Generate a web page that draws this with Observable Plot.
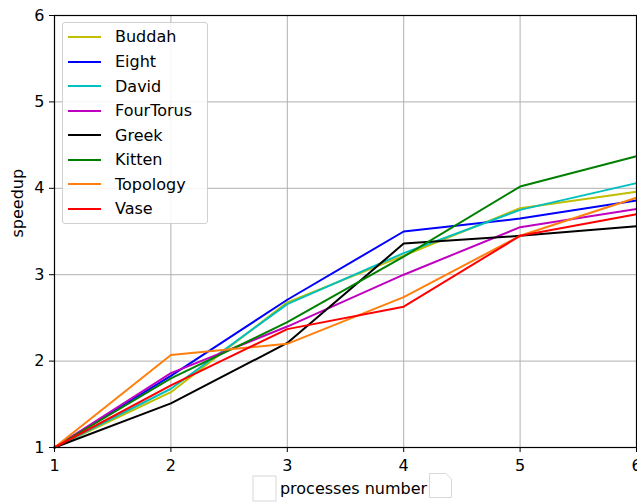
<!DOCTYPE html>
<html>
<head>
<meta charset="utf-8">
<script src="https://cdn.jsdelivr.net/npm/d3@7"></script>
<script src="https://cdn.jsdelivr.net/npm/@observablehq/plot@0.6"></script>
<style>
  body { margin: 0; background: white; }
  #wrap { position: relative; width: 637px; height: 502px; font-family: "DejaVu Sans", sans-serif; }
  #legend { position: absolute; left: 62px; top: 22px; width: 144px; height: 198px;
            border: 1px solid #d0d0d0; border-radius: 3px; background: rgba(255,255,255,0.85);
            padding-top: 1.7px; box-sizing: content-box; }
  .row { height: 24.57px; display: flex; align-items: center; font-size: 16px; color: #000; }
  .sw { width: 33px; height: 2px; margin-left: 5px; margin-right: 14px; }
</style>
</head>
<body>
<div id="wrap"></div>
<script>
const xs = [1, 2, 3, 4, 5, 6];
const xTicks = [1, 2, 3, 4, 5, 6];
const yTicks = [1, 2, 3, 4, 5, 6];
const names = ["Buddah", "Eight", "David", "FourTorus", "Greek", "Kitten", "Topology", "Vase"];
const colors = ["#bfbf00", "#0000ff", "#00bfbf", "#bf00bf", "#000000", "#008000", "#ff7f0e", "#ff0000"];
const buddah    = [1, 1.64, 2.68, 3.22, 3.77, 3.96];
const eight     = [1, 1.83, 2.71, 3.50, 3.65, 3.86];
const david     = [1, 1.68, 2.66, 3.25, 3.75, 4.06];
const fourTorus = [1, 1.86, 2.40, 3.00, 3.55, 3.76];
const greek     = [1, 1.51, 2.21, 3.36, 3.45, 3.56];
const kitten    = [1, 1.80, 2.45, 3.21, 4.02, 4.37];
const topology  = [1, 2.07, 2.20, 2.74, 3.45, 3.89];
const vase      = [1, 1.72, 2.37, 2.63, 3.45, 3.70];
const xLabel = "processes number";
const yLabel = "speedup";

const series = [buddah, eight, david, fourTorus, greek, kitten, topology, vase];
const data = names.flatMap((n, i) => xs.map((x, j) => ({series: n, x, y: series[i][j]})));

const chart = Plot.plot({
  width: 637, height: 502,
  marginLeft: 54, marginRight: 1, marginTop: 15, marginBottom: 55,
  style: {fontFamily: "DejaVu Sans", fontSize: "16px", color: "black", background: "white"},
  x: {domain: [1, 6]},
  y: {domain: [1, 6]},
  color: {domain: names, range: colors},
  marks: [
    Plot.gridX(xTicks, {stroke: "#b0b0b0", strokeOpacity: 1, strokeWidth: 1}),
    Plot.gridY(yTicks, {stroke: "#b0b0b0", strokeOpacity: 1, strokeWidth: 1}),
    Plot.line(data, {x: "x", y: "y", z: "series", stroke: "series", strokeWidth: 2}),
    Plot.frame({stroke: "black", strokeWidth: 1.2}),
    Plot.axisX(xTicks, {tickSize: 5, tickPadding: 7, label: null, tickFormat: d => String(d), fontSize: 16}),
    Plot.axisY(yTicks, {tickSize: 5, tickPadding: 5, label: null, tickFormat: d => String(d), fontSize: 16}),
    Plot.text([yLabel], {text: d => d, frameAnchor: "left", rotate: -90, dx: -37, dy: 6, fontSize: 16, lineAnchor: "middle"}),
    Plot.text([xLabel], {text: d => d, frameAnchor: "bottom", dy: 41, dx: 8, fontSize: 16, lineAnchor: "middle"})
  ]
});

const svg = d3.select(chart);
// placeholder boxes around x label (unrendered glyphs in the original)
svg.append("rect").attr("x", 253).attr("y", 476).attr("width", 23).attr("height", 25)
  .attr("fill", "white").attr("stroke", "#d8d8d8");
svg.append("path").attr("d", "M429.5,473.5 H446 L451.5,479 V497.5 H429.5 Z")
  .attr("fill", "white").attr("stroke", "#d8d8d8");

const wrap = document.getElementById("wrap");
wrap.appendChild(chart);

const legend = document.createElement("div");
legend.id = "legend";
names.forEach((n, i) => {
  const row = document.createElement("div");
  row.className = "row";
  const sw = document.createElement("span");
  sw.className = "sw";
  sw.style.background = colors[i];
  const t = document.createElement("span");
  t.textContent = n;
  row.appendChild(sw);
  row.appendChild(t);
  legend.appendChild(row);
});
wrap.appendChild(legend);
</script>
</body>
</html>
